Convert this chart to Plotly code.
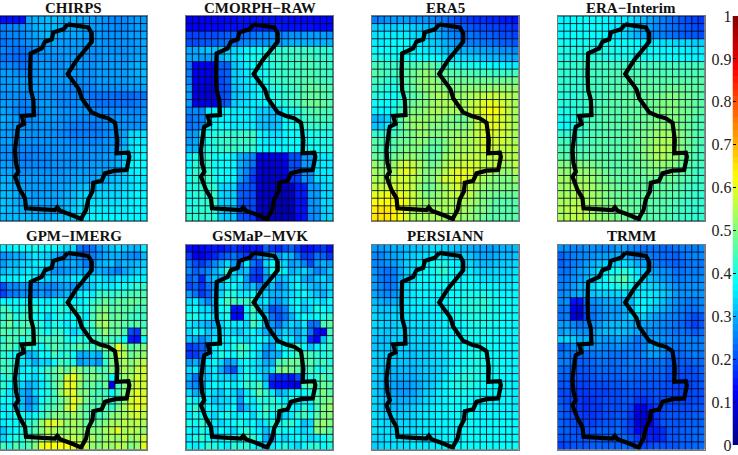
import plotly.graph_objects as go

# grid cell values in hundredths, read row by row from the top of each map
chirps = [
    [14,14,14,14,29,30,30,31,31,30,30,30,29,29,28,28,27,26,26,26,27,28,28],
    [25,26,26,27,28,30,31,31,31,30,30,30,29,29,28,28,27,27,26,26,27,28,28],
    [25,26,26,26,28,29,30,31,30,29,29,29,29,28,28,28,27,27,27,27,28,28,29],
    [24,25,25,26,27,28,29,29,29,28,28,28,28,28,28,28,27,27,27,27,27,28,29],
    [26,25,24,24,25,27,28,28,28,28,28,28,28,27,27,27,28,27,27,27,28,28,29],
    [24,24,23,23,24,26,27,27,27,27,28,28,28,27,27,27,28,28,28,27,28,29,29],
    [26,26,25,24,25,27,28,28,27,27,28,28,28,27,27,28,28,28,28,28,29,30,30],
    [28,28,27,26,26,27,28,28,28,28,28,28,27,27,27,28,28,28,28,28,29,30,31],
    [28,28,28,28,28,28,28,28,28,28,28,27,27,27,27,28,28,28,28,28,29,29,30],
    [28,28,28,28,28,28,28,28,27,27,27,26,26,26,26,27,27,27,27,27,28,28,29],
    [27,27,27,26,27,27,27,27,27,26,26,26,26,25,24,24,24,24,23,23,23,24,24],
    [28,28,27,25,26,27,28,28,27,26,26,26,27,26,25,24,24,24,24,24,24,25,26],
    [29,28,26,25,25,26,27,28,28,27,27,27,27,27,26,26,26,26,26,26,26,26,27],
    [30,29,28,27,26,27,28,28,28,27,27,27,26,26,26,26,27,27,27,27,27,27,28],
    [29,28,28,27,27,27,27,27,27,27,26,25,25,25,24,25,26,27,27,27,27,27,28],
    [28,28,28,28,27,27,27,27,27,26,26,25,25,25,25,25,26,27,28,29,34,35,35],
    [28,28,28,27,27,27,27,27,27,27,27,26,26,26,26,26,27,27,28,30,35,36,36],
    [27,27,27,26,26,26,26,27,27,27,27,27,27,27,27,27,27,28,29,31,35,37,37],
    [27,27,26,25,25,26,26,26,27,27,27,27,27,27,27,27,28,28,29,32,36,37,38],
    [28,28,27,26,26,26,26,26,27,27,27,27,28,28,28,28,28,29,30,33,37,38,38],
    [29,29,28,27,27,27,27,27,27,27,28,28,28,28,28,29,29,30,31,33,36,37,37],
    [30,30,29,28,28,28,28,28,28,28,28,29,29,29,29,30,30,31,32,33,35,36,36],
    [31,30,29,29,28,28,28,28,28,29,29,30,31,32,32,32,32,33,33,34,35,36,36],
    [31,31,30,29,29,28,28,29,29,29,30,31,33,34,34,34,34,34,34,35,36,37,37],
    [32,31,30,29,29,29,29,29,29,30,31,32,34,35,35,35,35,35,35,36,36,37,37],
    [32,31,31,30,30,30,29,29,30,30,31,33,34,36,36,36,36,36,36,36,37,37,37],
    [31,31,31,31,31,30,30,30,30,31,32,33,34,36,37,37,37,37,37,37,37,37,37],
]
cmorph = [
    [12,12,12,12,13,13,13,13,14,14,14,14,14,14,14,14,13,13,13,13,13,13,13],
    [12,12,12,13,13,13,14,14,14,14,15,15,15,15,15,14,14,14,14,14,13,13,13],
    [19,19,19,20,20,21,22,22,22,23,24,25,25,26,26,26,27,27,28,28,28,28,27],
    [20,20,21,21,22,23,24,24,25,26,27,27,27,28,28,29,30,30,30,30,30,30,30],
    [29,29,31,32,32,33,33,34,35,37,38,38,40,42,42,42,43,43,43,43,42,42,41],
    [29,29,28,28,28,30,33,35,36,38,39,40,41,42,43,43,43,44,44,44,43,43,42],
    [25,12,12,12,12,22,22,32,34,36,38,38,39,41,42,43,43,44,44,45,44,44,43],
    [25,11,11,11,11,21,22,33,34,36,38,38,39,42,43,43,44,44,45,45,44,44,43],
    [26,11,11,10,10,20,22,33,34,35,37,38,39,42,43,43,44,45,45,46,45,44,44],
    [28,10,10,9,9,20,21,32,33,35,36,37,38,40,41,42,43,44,46,47,47,46,45],
    [28,10,9,9,9,20,21,32,33,34,36,37,38,40,41,42,43,44,46,47,47,46,45],
    [28,10,10,10,10,21,22,33,34,35,36,36,37,39,40,41,43,44,47,48,48,47,46],
    [26,26,26,36,37,37,37,36,36,36,36,33,33,32,33,38,39,40,44,45,46,45,44],
    [24,25,26,35,37,37,37,36,36,36,36,32,32,31,32,38,39,40,43,44,45,44,44],
    [24,25,26,36,38,38,37,36,36,36,36,32,31,31,32,38,39,40,42,43,43,43,42],
    [28,28,38,40,41,41,42,42,42,43,43,37,36,35,35,37,38,38,38,39,40,40,40],
    [28,29,38,40,41,42,43,43,43,43,43,37,36,36,36,37,38,38,38,39,40,40,40],
    [30,30,39,40,41,42,43,43,42,42,42,37,37,37,37,37,38,38,38,39,39,40,40],
    [36,40,42,42,38,38,38,36,30,28,26,10,10,10,10,12,20,20,28,28,36,36,36],
    [37,41,42,42,38,38,38,37,30,27,24,9,9,9,9,11,20,20,28,28,35,36,36],
    [38,42,43,43,39,38,38,37,29,26,20,8,8,8,8,10,20,20,27,27,35,36,36],
    [39,42,43,43,39,38,37,37,28,24,18,8,7,7,7,9,18,19,27,27,34,35,36],
    [40,41,42,42,42,34,34,34,22,22,20,8,7,7,6,6,6,15,15,28,28,34,34],
    [40,41,42,42,42,34,33,33,22,21,20,7,7,7,6,6,6,15,15,28,28,34,34],
    [40,40,42,42,42,33,33,33,21,20,20,7,7,7,5,5,6,14,14,27,28,34,34],
    [41,41,42,42,41,33,32,32,21,20,19,6,6,6,5,5,5,14,14,27,27,33,34],
    [42,42,42,42,41,33,32,32,21,20,18,6,6,6,5,5,5,13,14,26,27,33,34],
]
era5 = [
    [25,26,27,28,28,28,27,27,27,26,25,24,22,20,19,18,17,17,16,16,15,15,14],
    [33,33,33,33,34,34,33,32,31,30,28,26,24,23,22,21,20,20,19,19,18,18,17],
    [35,36,36,36,36,36,35,34,33,32,30,28,26,25,24,24,23,22,22,21,20,20,19],
    [36,36,37,38,38,38,37,36,35,33,32,30,29,27,26,25,25,24,24,23,22,22,21],
    [38,38,38,38,38,38,37,37,36,35,34,32,31,31,30,30,29,29,28,28,27,27,26],
    [40,40,39,39,39,39,38,38,38,38,37,36,35,35,34,33,33,32,31,31,30,30,29],
    [44,44,43,43,43,44,45,46,47,47,44,43,41,40,40,39,39,38,38,37,37,36,36],
    [46,45,44,44,45,46,48,50,52,50,48,47,46,46,45,45,44,44,44,43,43,43,44],
    [44,44,42,41,44,46,48,50,52,52,50,48,48,48,48,48,48,48,48,48,48,49,49],
    [42,42,40,40,42,45,47,50,51,52,52,50,50,50,51,51,51,51,52,52,52,52,52],
    [41,40,39,38,40,44,46,48,50,52,54,54,52,52,53,54,55,56,57,57,56,55,54],
    [38,38,38,39,42,46,48,50,50,52,54,54,54,54,54,56,57,59,60,60,58,56,54],
    [37,37,37,40,44,48,50,50,52,54,54,54,54,54,54,56,58,60,62,62,60,56,54],
    [30,31,33,40,46,50,52,52,52,52,52,50,50,48,48,52,56,58,60,60,58,56,54],
    [32,33,36,42,46,50,52,53,52,50,50,50,50,50,50,52,56,58,60,60,58,56,54],
    [42,42,43,44,46,48,50,52,52,50,50,52,52,52,52,54,56,58,60,58,58,56,54],
    [46,45,44,46,48,48,50,52,50,48,48,50,52,54,54,54,56,58,58,58,58,56,54],
    [46,45,44,46,48,50,50,50,48,46,46,50,52,54,54,54,56,58,58,57,56,56,55],
    [48,46,46,48,50,52,52,50,48,46,48,52,54,54,56,56,56,56,56,56,56,55,55],
    [52,50,50,52,56,58,56,54,50,48,50,54,56,56,58,58,58,56,56,56,54,54,56],
    [54,52,52,54,58,60,58,54,50,50,52,56,58,60,60,60,58,56,54,52,52,52,54],
    [54,54,54,56,58,58,56,54,50,50,54,58,58,60,60,58,56,54,52,50,50,50,52],
    [56,56,56,58,58,58,56,52,48,48,52,54,56,58,58,56,54,52,50,50,50,50,50],
    [60,60,61,61,60,59,57,54,50,50,52,54,56,56,56,56,52,50,50,48,48,48,48],
    [62,62,62,62,62,60,57,54,52,52,52,54,54,54,54,54,52,50,48,46,46,46,46],
    [64,65,65,64,62,60,56,54,52,52,54,54,54,54,54,52,50,50,48,46,46,46,46],
    [65,65,65,64,62,58,54,54,54,54,54,54,54,54,52,52,50,48,46,46,46,46,46],
]
era_interim = [
    [37,37,38,38,38,38,38,37,37,36,36,35,33,31,29,27,25,24,23,21,20,19,18],
    [37,37,38,38,38,38,38,37,36,36,35,33,31,29,28,26,25,24,23,22,21,20,19],
    [37,37,38,38,38,38,38,37,36,35,34,32,30,29,27,26,25,24,23,22,21,21,20],
    [39,39,39,39,39,39,39,39,39,38,38,38,37,37,36,36,35,35,34,34,34,33,33],
    [40,40,40,40,40,40,40,40,40,39,39,39,38,38,38,38,37,37,37,37,36,36,36],
    [40,40,41,41,41,41,41,40,40,40,40,40,39,39,39,39,38,38,38,38,37,37,37],
    [42,42,42,43,43,43,44,44,44,44,44,44,44,44,44,44,44,44,44,44,44,44,44],
    [42,42,42,43,43,44,44,44,45,45,45,45,45,45,45,45,45,45,45,45,45,45,45],
    [42,42,42,42,43,44,44,45,45,45,46,46,46,46,46,46,46,46,46,46,46,46,46],
    [42,42,42,42,43,44,44,45,45,46,46,46,46,47,47,47,47,48,48,48,47,47,46],
    [41,41,41,42,43,44,44,45,46,46,46,47,47,47,48,48,49,50,50,49,48,47,46],
    [41,41,41,42,43,44,45,45,46,46,47,47,47,48,48,49,50,50,50,49,48,47,46],
    [40,40,41,42,43,44,45,46,46,46,47,47,47,48,48,49,50,50,50,49,48,47,46],
    [39,39,40,42,44,44,45,46,46,46,47,47,47,48,48,49,50,50,50,49,48,46,45],
    [38,38,39,42,44,45,45,46,46,46,47,47,48,48,49,50,51,51,50,49,47,46,45],
    [42,42,42,43,44,45,45,46,46,46,47,47,48,49,50,52,53,53,52,50,48,46,45],
    [44,44,44,44,45,45,46,46,46,46,47,47,48,50,51,53,54,54,52,50,48,46,45],
    [45,45,45,45,45,46,46,46,46,46,47,47,48,50,52,54,55,54,52,50,48,46,44],
    [46,46,46,46,46,46,46,46,46,46,47,47,48,50,52,54,54,53,52,49,47,45,44],
    [50,50,50,50,50,49,48,47,46,46,47,47,48,49,50,52,52,51,50,48,46,45,44],
    [52,52,52,52,52,51,50,48,47,47,47,47,48,48,50,50,50,50,48,47,46,44,43],
    [53,53,53,53,53,52,50,49,48,47,47,47,47,47,48,48,48,48,47,46,45,44,43],
    [53,53,54,54,54,53,51,50,49,48,48,47,47,47,47,47,47,47,46,45,44,43,43],
    [53,54,54,54,54,53,52,50,49,48,48,47,47,47,47,47,47,46,46,45,44,43,42],
    [54,54,55,55,54,53,52,50,50,49,48,47,47,47,47,46,46,46,45,44,43,43,42],
    [54,55,56,56,55,53,52,50,50,49,48,48,47,47,46,46,46,45,44,44,43,42,42],
    [54,55,56,56,55,53,52,51,50,49,48,48,47,46,46,46,45,45,44,43,43,42,42],
]
gpm_imerg = [
    [36,36,38,38,38,40,38,38,38,36,34,34,24,22,24,28,30,32,34,32,31,30,36],
    [27,28,30,30,33,36,34,33,30,28,26,27,26,24,25,27,29,30,30,28,27,26,31],
    [28,31,31,34,34,36,37,34,30,28,29,30,28,25,27,30,31,32,28,31,30,31,33],
    [31,33,33,34,36,36,34,32,27,27,28,29,30,29,31,30,29,27,25,29,31,33,35],
    [36,36,37,38,38,37,36,34,33,33,33,36,36,35,35,36,34,33,36,35,36,37,37],
    [20,26,26,28,28,27,27,26,26,28,29,27,30,30,33,36,36,36,38,39,40,42,42],
    [19,24,25,27,27,26,28,26,28,29,31,32,36,37,36,42,43,42,43,43,44,45,45],
    [38,37,38,38,38,38,37,36,38,38,38,38,36,38,42,44,48,44,47,46,48,47,46],
    [44,42,38,40,44,42,38,40,38,42,40,42,40,38,44,48,50,46,47,46,46,44,44],
    [42,46,40,42,44,38,38,34,38,40,38,38,40,36,44,50,52,46,48,46,44,43,44],
    [44,48,42,44,46,42,40,36,40,38,36,38,38,40,44,52,54,48,48,46,44,46,44],
    [46,44,44,46,42,44,40,38,42,42,38,34,36,40,42,46,52,46,48,44,20,18,46],
    [42,46,44,40,44,46,42,44,44,44,40,38,42,40,44,44,46,44,42,38,15,14,38],
    [44,46,42,42,42,40,38,42,46,44,42,44,46,44,42,46,50,48,60,52,46,48,50],
    [42,40,38,36,30,32,38,38,44,40,42,38,30,30,32,30,44,48,58,54,48,50,52],
    [44,42,40,36,34,30,34,34,38,44,42,40,28,30,30,28,42,50,52,54,50,54,56],
    [44,44,42,36,38,36,40,44,46,50,46,54,50,46,48,44,46,50,52,54,52,56,58],
    [40,42,36,38,36,34,38,42,46,48,58,60,54,48,50,48,46,38,50,52,54,58,58],
    [42,38,38,34,30,32,36,40,46,50,60,60,52,46,48,44,48,10,44,50,54,58,58],
    [40,36,36,30,28,34,38,40,44,52,58,60,50,50,46,44,44,38,44,50,56,60,58],
    [38,38,34,32,26,30,38,42,44,48,52,60,56,48,46,46,46,42,46,52,58,60,60],
    [36,38,36,32,28,32,40,44,46,48,56,60,50,46,46,44,46,42,50,54,58,60,58],
    [38,36,40,40,36,38,42,46,50,50,50,54,50,46,44,44,46,50,52,54,56,58,56],
    [36,38,38,42,42,44,52,58,60,56,52,54,52,48,48,48,50,54,54,56,54,56,54],
    [32,36,38,40,42,46,50,56,54,52,52,54,52,50,50,50,54,56,60,54,56,54,52],
    [34,38,40,42,46,48,50,54,52,54,54,56,54,52,54,50,52,54,52,56,52,54,58],
    [44,40,46,42,46,50,60,62,62,62,62,60,58,56,52,50,54,52,56,54,50,52,60],
]
gsmap_mvk = [
    [14,12,13,14,15,14,16,18,15,14,15,14,22,18,16,20,22,18,14,14,16,18,14],
    [18,12,10,14,16,20,22,24,20,18,20,26,30,34,28,32,30,24,18,18,24,22,18],
    [24,20,18,22,26,30,34,28,26,36,24,20,34,38,36,34,28,30,26,20,28,30,28],
    [26,22,24,26,30,34,42,36,30,32,20,18,30,40,38,36,30,32,34,30,26,28,32],
    [22,24,16,28,32,30,38,34,36,28,18,16,28,36,30,32,34,36,30,28,32,34,30],
    [20,22,18,24,28,32,36,38,34,30,32,26,30,32,26,30,34,38,34,32,30,32,34],
    [28,24,18,22,30,34,40,40,36,36,38,36,34,30,30,32,34,36,38,34,32,30,34],
    [34,36,30,26,32,38,44,44,42,42,44,34,36,30,28,32,36,38,34,36,36,34,38],
    [36,38,34,34,30,38,40,14,14,38,44,34,30,20,22,26,34,38,32,34,40,38,36],
    [40,40,36,36,34,36,40,13,13,36,42,38,34,24,20,24,30,36,38,36,38,40,42],
    [36,34,32,30,30,34,38,36,36,34,44,40,32,28,24,30,34,32,36,24,24,44,46],
    [34,38,36,32,34,36,36,34,32,36,38,34,30,28,30,34,32,30,34,24,14,12,44],
    [32,30,26,30,36,38,36,38,36,34,36,38,36,32,32,36,36,30,34,16,12,32,42],
    [18,20,22,24,38,38,36,40,44,42,38,36,30,28,36,38,42,44,38,32,36,40,42],
    [18,18,22,30,36,40,38,38,42,40,38,34,26,30,30,38,40,44,46,44,42,40,42],
    [28,30,26,36,38,34,28,30,36,38,36,34,30,30,44,46,48,48,44,46,42,44,40],
    [34,36,30,34,36,30,24,20,34,38,36,34,32,36,48,50,48,46,42,44,40,40,44],
    [30,24,34,32,36,34,34,32,36,40,38,36,30,18,16,16,14,20,36,40,42,46,42],
    [28,26,28,36,38,36,38,36,38,42,42,44,34,14,13,13,11,10,44,46,44,48,46],
    [34,30,32,36,34,32,36,34,30,36,40,46,42,36,30,32,36,38,38,40,44,50,46],
    [40,36,38,36,32,34,34,36,28,38,36,42,40,42,38,36,40,38,36,38,46,48,50],
    [38,42,40,38,36,34,36,38,26,32,36,38,44,40,42,40,38,36,42,36,44,50,52],
    [36,40,38,36,34,38,40,36,36,38,34,40,42,38,36,34,36,42,44,40,46,50,50],
    [40,38,42,40,36,34,36,38,40,36,38,34,36,42,38,40,42,38,32,34,50,52,50],
    [38,36,40,38,34,38,36,34,38,42,38,36,32,36,40,38,38,36,34,36,50,50,46],
    [36,40,42,38,36,36,40,38,42,44,42,38,30,28,36,34,36,38,36,34,36,38,42],
    [38,36,38,42,40,38,36,42,40,42,38,36,34,36,38,40,36,34,38,40,42,38,40],
]
persiann = [
    [28,28,29,30,30,31,32,32,33,34,34,33,32,31,31,30,29,29,28,29,30,30,31],
    [26,26,28,29,30,32,33,34,35,36,36,35,34,34,33,32,30,29,29,30,31,31,32],
    [26,26,27,28,30,33,35,36,37,38,40,40,37,36,35,34,32,31,31,32,33,33,34],
    [27,25,24,25,29,33,35,37,38,38,41,42,38,37,36,36,34,33,33,34,34,34,35],
    [28,25,24,25,29,33,35,37,38,38,39,39,38,38,37,37,36,35,35,35,35,35,36],
    [28,26,24,25,30,34,36,37,37,37,38,38,38,38,38,38,37,37,37,37,36,36,37],
    [29,27,26,27,31,34,36,37,37,37,37,38,38,38,39,39,39,40,39,38,37,37,37],
    [31,30,29,30,32,35,36,36,37,37,37,37,38,39,40,40,41,42,40,39,38,38,38],
    [33,32,32,33,34,35,36,36,36,36,37,37,38,39,40,41,41,41,40,39,38,38,38],
    [34,33,33,34,34,35,35,35,36,36,36,37,38,39,39,40,40,40,40,39,38,38,38],
    [34,34,33,33,34,34,35,35,35,35,36,37,38,38,38,39,40,40,39,39,38,38,37],
    [33,33,32,33,34,34,34,34,34,35,36,37,37,38,38,39,39,39,39,38,38,37,37],
    [32,32,32,33,33,33,34,34,34,34,35,36,37,37,38,39,39,39,38,38,37,37,37],
    [32,32,32,32,33,33,33,33,33,34,35,36,37,37,38,39,40,39,38,38,37,37,37],
    [33,33,33,33,33,32,32,33,33,34,35,35,36,37,38,39,40,39,38,38,37,37,37],
    [33,33,33,33,32,32,32,32,33,34,34,35,36,37,38,39,40,40,39,38,38,37,37],
    [33,33,32,31,31,31,31,32,33,33,34,35,37,38,39,40,40,40,39,38,38,37,37],
    [33,32,31,30,30,30,30,31,32,33,34,36,38,40,41,41,40,39,38,38,37,37,37],
    [33,32,31,29,28,28,29,30,32,33,35,37,39,40,40,40,39,38,38,37,37,37,36],
    [33,32,30,29,28,28,29,31,33,34,36,37,38,39,39,38,38,37,37,37,37,37,36],
    [34,33,31,30,30,30,31,32,34,35,36,37,38,38,38,38,37,37,37,37,37,37,36],
    [34,33,32,31,31,32,33,34,35,36,37,37,38,38,38,38,37,37,37,37,37,37,36],
    [35,34,33,33,33,33,34,35,36,36,37,37,37,38,38,38,37,37,37,37,37,37,37],
    [35,35,34,34,34,34,34,35,36,36,37,37,37,38,38,38,37,37,37,38,38,38,37],
    [35,35,35,34,34,35,35,35,36,36,36,37,37,37,38,38,38,37,38,38,38,38,38],
    [34,34,35,35,35,35,35,35,36,36,36,37,37,37,38,38,38,38,38,38,38,38,38],
    [33,34,35,35,35,35,36,36,36,36,36,37,37,38,38,38,38,38,38,38,38,38,38],
]
trmm = [
    [27,27,26,26,27,27,26,26,26,28,28,26,25,24,24,24,23,23,24,25,25,25,26],
    [22,24,25,26,26,27,28,28,29,30,31,28,26,26,25,24,23,23,22,24,25,26,26],
    [22,24,25,26,28,30,32,33,34,34,35,33,30,29,27,25,24,23,22,23,24,25,24],
    [24,24,26,28,29,32,35,36,38,40,41,38,35,33,30,28,27,26,24,24,25,25,25],
    [25,25,27,28,30,33,36,38,42,44,46,41,37,34,32,30,28,27,25,25,26,26,26],
    [25,26,28,30,31,34,37,37,38,40,41,38,36,35,34,33,31,29,27,26,27,27,27],
    [26,27,29,30,31,32,33,33,33,34,35,34,35,36,36,35,33,31,28,27,27,27,27],
    [26,27,14,14,24,27,28,29,30,30,30,31,36,37,36,34,32,29,27,26,25,25,26],
    [24,25,11,9,21,25,26,28,28,28,30,32,36,37,34,32,30,28,26,25,24,24,25],
    [24,25,9,8,19,24,26,27,28,28,30,33,34,33,30,28,27,26,25,24,22,20,21],
    [28,28,26,24,25,27,28,30,31,31,31,30,30,29,28,27,26,25,24,23,21,19,21],
    [28,30,28,27,27,28,30,31,31,32,31,30,29,28,27,27,26,25,24,24,23,22,23],
    [33,34,33,30,30,29,29,28,28,29,28,27,24,26,28,28,27,26,25,25,25,25,25],
    [22,24,27,28,28,27,27,26,26,27,26,25,24,26,29,30,28,25,24,24,25,25,25],
    [24,25,24,23,23,24,25,25,24,24,24,25,24,26,28,28,26,24,23,23,24,25,24],
    [25,25,23,22,22,23,24,24,23,24,24,25,24,24,24,24,24,22,21,22,22,23,23],
    [23,23,22,21,21,22,23,23,23,23,24,24,23,23,23,23,23,21,20,21,20,21,22],
    [22,22,21,20,20,21,22,22,22,22,23,23,22,22,22,22,22,20,20,20,20,20,21],
    [21,21,20,19,19,20,20,20,21,21,22,22,21,21,21,21,21,20,19,19,19,20,21],
    [20,20,19,18,18,19,19,19,20,20,21,21,20,20,20,21,20,20,19,19,19,20,20],
    [21,20,19,18,17,18,19,20,20,20,21,21,18,17,19,20,20,20,19,19,19,20,20],
    [22,21,19,18,17,18,18,20,20,20,21,19,12,11,16,19,20,20,20,20,20,21,21],
    [22,21,20,19,18,18,19,20,20,21,21,18,10,9,13,18,20,21,21,21,21,22,22],
    [22,21,20,19,19,19,20,21,21,22,21,18,10,9,12,17,21,21,21,21,22,22,22],
    [22,22,21,20,20,21,22,22,22,23,21,19,13,12,15,15,17,21,21,22,22,23,23],
    [21,21,21,21,21,22,22,22,23,23,23,21,18,17,16,15,17,21,21,22,22,23,23],
    [19,20,21,21,21,22,22,22,22,22,23,23,21,19,20,21,21,21,21,22,22,23,23],
]

names = ["CHIRPS", "CMORPH\u2212RAW", "ERA5", "ERA\u2212Interim",
         "GPM\u2212IMERG", "GSMaP\u2212MVK", "PERSIANN", "TRMM"]
panels = [chirps, cmorph, era5, era_interim, gpm_imerg, gsmap_mvk, persiann, trmm]

# basin outline in grid cell units (same for every map)
outline_col = [10.09,11.24,13.32,13.85,13.85,12.80,11.50,10.09,11.08,11.86,12.28,13.17,13.85,15.15,16.45,17.50,17.60,
               17.86,17.76,19.58,19.74,19.32,17.50,15.93,15.41,14.11,13.95,13.32,12.96,12.18,10.72,8.89,8.47,8.11,6.28,
               4.72,3.57,3.41,2.63,1.85,2.37,2.0,1.85,2.21,2.37,3.26,2.89,4.82,4.72,4.30,4.19,4.30,6.02,6.54,7.59,7.85,9.41,10.09]
outline_row = [0.60,0.69,0.99,1.78,2.88,3.98,5.29,7.14,8.15,9.16,10.34,11.35,12.19,12.67,12.98,13.55,14.29,
               15.83,17.59,17.50,18.03,19.78,19.87,20.22,21.19,21.45,22.63,23.64,25.05,26.23,25.71,25.14,24.70,25.05,24.96,
               24.83,24.83,23.51,22.41,20.66,20.0,18.9,17.15,14.73,14.07,13.72,12.67,12.54,10.56,9.25,7.05,4.42,3.76,2.88,2.57,1.65,1.26,0.60]

jet = [[0, "rgb(0,0,128)"], [0.125, "rgb(0,0,255)"], [0.375, "rgb(0,255,255)"],
       [0.625, "rgb(255,255,0)"], [0.875, "rgb(255,0,0)"], [1, "rgb(128,0,0)"]]

W, H = 738, 455
lefts = [0, 186, 371.5, 557.5]
tops = [16, 244.5]
pw, ph = 147, 205

# cell edges, drawn over the heatmap as a thin mesh
grid_x, grid_y = [], []
for c in range(24):
    grid_x += [c - 0.5, c - 0.5, None]
    grid_y += [-0.5, 26.5, None]
for r in range(28):
    grid_x += [-0.5, 22.5, None]
    grid_y += [r - 0.5, r - 0.5, None]

fig = go.Figure()
for i, (name, vals) in enumerate(zip(names, panels)):
    n = i + 1
    x0 = lefts[i % 4]
    y0 = tops[i // 4]
    xa, ya = f"x{n}", f"y{n}"
    fig.add_trace(go.Heatmap(z=[[v / 100 for v in row] for row in vals], zmin=0, zmax=1, colorscale=jet,
                             showscale=False, xaxis=xa, yaxis=ya, hoverinfo="skip"))
    fig.add_trace(go.Scatter(x=grid_x, y=grid_y, mode="lines", xaxis=xa, yaxis=ya, showlegend=False,
                             line=dict(color="rgba(5,5,30,0.85)", width=1), hoverinfo="skip"))
    fig.add_trace(go.Scatter(x=outline_col, y=outline_row, mode="lines", xaxis=xa, yaxis=ya, showlegend=False,
                             line=dict(color="black", width=4.2), hoverinfo="skip"))
    fig.update_layout(**{
        f"xaxis{n}": dict(domain=[x0 / W, (x0 + pw) / W], range=[-0.5, 22.5], anchor=ya, showticklabels=False, automargin=False,
                          ticks="", showgrid=False, zeroline=False, showline=True, mirror=True, linecolor="#777", linewidth=1),
        f"yaxis{n}": dict(domain=[1 - (y0 + ph) / H, 1 - y0 / H], range=[26.5, -0.5], anchor=xa, showticklabels=False, automargin=False,
                          ticks="", showgrid=False, zeroline=False, showline=True, mirror=True, linecolor="#777", linewidth=1),
    })
    fig.add_annotation(text=f"<b>{name}</b>", xref="paper", yref="paper", x=(x0 + pw / 2) / W, y=1 - (y0 - 8.5) / H,
                       showarrow=False, xanchor="center", yanchor="middle",
                       font=dict(family="Liberation Serif", size=15, color="#111"))

# colour bar on its own axes, 64 bands like the jet map
levels = [[(k + 0.5) / 64] for k in range(64)]
fig.add_trace(go.Heatmap(z=levels, y=[(k + 0.5) / 64 for k in range(64)], x=[0], zmin=0, zmax=1, colorscale=jet,
                         showscale=False, xaxis="x9", yaxis="y9", hoverinfo="skip"))
fig.update_layout(
    xaxis9=dict(domain=[732.5 / W, 1], anchor="y9", showticklabels=False, ticks="", showgrid=False, zeroline=False, automargin=False),
    yaxis9=dict(domain=[1 - 445 / H, 1 - 16 / H], range=[0, 1], anchor="x9", tickvals=[k / 10 for k in range(11)],
                ticktext=["0", "0.1", "0.2", "0.3", "0.4", "0.5", "0.6", "0.7", "0.8", "0.9", "1"], automargin=False,
                ticks="inside", ticklen=3, tickcolor="black", showgrid=False, zeroline=False,
                tickfont=dict(family="Liberation Serif", size=16, color="#222")),
    width=W, height=H, margin=dict(l=0, r=0, t=0, b=0), paper_bgcolor="white", plot_bgcolor="white",
    showlegend=False,
)

fig.write_html("out.html", config={"displayModeBar": False}, post_script="document.body.style.margin='0';")
